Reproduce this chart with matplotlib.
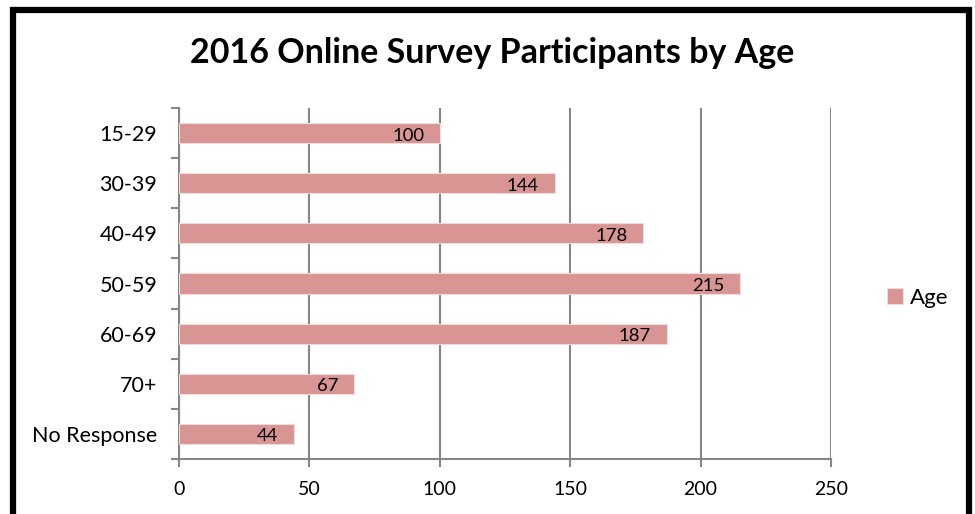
import matplotlib.pyplot as plt
from matplotlib.patches import Rectangle

# Survey data
categories = ['15-29', '30-39', '40-49', '50-59', '60-69', '70+', 'No Response']
counts = [100, 144, 178, 215, 187, 67, 44]
x_ticks = [0, 50, 100, 150, 200, 250]

plt.rcParams['font.family'] = ['Lato', 'DejaVu Sans']

fig = plt.figure(figsize=(9.75, 5.14), dpi=100)
ax = fig.add_axes([179 / 975, 1 - 459 / 514, (831 - 179) / 975, (459 - 108) / 514])

bar_color = '#d99594'
pos = list(range(len(categories)))
bars = ax.barh(pos, counts, height=0.4, color=bar_color, edgecolor='#f2dcdb',
               linewidth=0.8, label='Age', zorder=3)
ax.set_ylim(len(categories) - 0.5, -0.5)
ax.set_xlim(0, 250)

# data labels at inside end of each bar
for i, v in enumerate(counts):
    ax.text(v - 6, i + 0.05, str(v), ha='right', va='center', fontsize=13.3, color='black', zorder=4)

# gridlines and axes
ax.set_xticks(x_ticks)
ax.xaxis.grid(True, color='#868686', linewidth=1.5, zorder=0)
ax.set_yticks(pos)
ax.set_yticklabels(categories, fontsize=15.5)
ax.set_xticklabels([str(t) for t in x_ticks], fontsize=14)
ax.set_yticks([p - 0.5 for p in pos] + [len(pos) - 0.5], minor=True)
ax.tick_params(axis='y', which='major', length=0, pad=15.5)
ax.tick_params(axis='y', which='minor', length=6, width=1.5, color='#868686')
ax.tick_params(axis='x', length=6, width=1.5, color='#868686', pad=10)
for s in ['top', 'right']:
    ax.spines[s].set_visible(False)
for s in ['left', 'bottom']:
    ax.spines[s].set_color('#868686')
    ax.spines[s].set_linewidth(1.5)

fig.text(492 / 975, 1 - 53 / 514, '2016 Online Survey Participants by Age',
         ha='center', va='center', fontsize=24.5, fontweight='bold')

fig.legend(handles=[bars], labels=['Age'], loc='center left',
           bbox_to_anchor=(867 / 975, 1 - 298 / 514), frameon=False,
           fontsize=16, handlelength=0.7, handleheight=0.7, handletextpad=0.35)

# outer chart border
fig.patches.append(Rectangle((12.5 / 975, -0.05), (969 - 12.5) / 975, (1 - 10 / 514) + 0.05,
                             transform=fig.transFigure, fill=False, edgecolor='black',
                             linewidth=4.5))

fig.savefig('out.png', dpi=100)
